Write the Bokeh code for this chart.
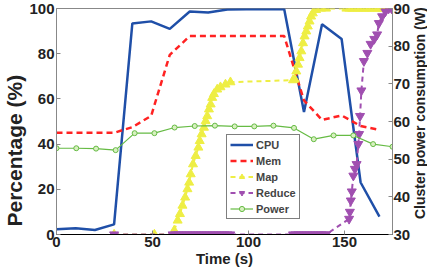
from bokeh.plotting import figure
from bokeh.models import Range1d, LinearAxis, FixedTicker, Legend, LegendItem, Div
from bokeh.layouts import row
from bokeh.embed import file_html
from bokeh.resources import INLINE

# ---------------- data ----------------
t_cpu = [0, 10, 20, 30, 39.5, 49.3, 59, 69.4, 79, 89, 99, 109, 118.6, 128.9, 138.3, 148.5, 158.4, 168.2]
cpu = [2.3, 2.8, 2.0, 4.5, 93.4, 94.3, 91.0, 98.7, 98.2, 99.6, 99.7, 99.7, 99.7, 54.2, 93.0, 86.5, 23.0, 7.9]

t_mem = [0, 10, 20, 30, 39.5, 49.3, 59, 69.4, 79, 89, 99, 109, 118.6, 128.9, 138.3, 148.5, 158.4, 168.2]
mem = [45.0, 45.0, 45.0, 45.0, 47.5, 52.5, 79.5, 87.8, 87.8, 87.8, 87.8, 87.8, 87.8, 59.3, 50.7, 52.7, 48.0, 46.3]

t_map = [30, 51, 60.5, 61.3, 63.1, 64.3, 65.6, 67.0, 68.2, 69.1, 69.9, 71.1, 72.5, 73.9, 74.6, 75.6,
         76.8, 77.7, 78.5, 79.4, 80.3, 81.1, 82.0, 83.7, 85.4, 88.0, 90.6,
         123.2, 124.1, 124.9, 125.8, 126.6, 127.5, 128.4, 129.2, 130.1, 130.9, 131.8, 132.6, 133.5,
         135.2, 137.8, 140.4, 151, 152.5, 154, 155.5, 157, 158.5, 160, 161.5, 163, 164.5, 166,
         167.5, 169, 170.5, 172, 173.5]
map_pct = [0, 0, 0, 1.8, 6.2, 9.1, 12.8, 16.4, 20.1, 23.0, 26.7, 31.1, 34.8, 38.5, 41.4, 44.4,
           47.3, 50.2, 52.4, 55.4, 57.6, 60.5, 62.2, 64.2, 65.2, 66.4, 67.4,
           68.3, 68.6, 72.2, 75.2, 78.1, 81.1, 84.7, 87.7, 89.9, 92.1, 94.3, 96.5, 97.9,
           99.4, 100, 100, 100, 100, 100, 100, 100, 100, 100, 100, 100, 100, 100,
           100, 100, 100, 100, 100]

t_red = [30, 60.5, 62, 63.5, 65, 66.5, 68, 69.5, 71, 72.5, 74, 75.5, 77, 78.5, 80, 81.5, 83, 84.5,
         86, 87.5, 89, 90.5, 123.2, 124.5, 126, 127.5, 129, 130.5, 132, 133.5, 135, 136.5, 138,
         139.5, 140.4, 152.4, 152.8, 153.3, 153.8, 154.6, 155.4, 156.3, 157.2, 157.6, 158.1, 158.8,
         160.1, 161.9, 163.6, 165.5, 167.0, 167.9, 169.6, 171.3, 173.0, 174.5]
reduce_pct = [0, 0, 0, 0, 0, 0, 0, 0, 0, 0, 0, 0, 0, 0, 0, 0, 0, 0,
              0, 0, 0, 0, 0, 0, 0, 0, 0, 0, 0, 0, 0, 0, 0,
              0, 0, 6.9, 10.0, 15.0, 19.0, 26.0, 29.0, 31.1, 40.0, 44.4, 52.4, 63.7,
              76.7, 80.3, 84.3, 86.5, 88.5, 93.5, 96.5, 98.7, 100, 100]

t_pow = [0, 10.3, 20.6, 30.8, 40.7, 51, 61.5, 72, 82.5, 92.8, 103, 113, 123.7, 134, 144.3, 154.6, 164.9, 175]
power_w = [52.9, 52.9, 52.8, 52.4, 56.9, 56.9, 58.4, 58.8, 58.9, 58.7, 58.7, 58.9, 58.3, 55.3, 56.3, 56.3, 54.0, 53.3]

x_ticks = [0, 50, 100, 150]
y_ticks = [0, 20, 40, 60, 80, 100]
y2_ticks = [30, 40, 50, 60, 70, 80, 90]

x_label = "Time (s)"
y_label = "Percentage (%)"
y2_label = "Cluster power consumption (W)"

# ---------------- styles ----------------
FONT = "Liberation Sans"
TXT = "#222222"
NB = "\u00a0"
C_CPU = "#1f4fa8"
C_MEM = "#ff2222"
C_MAP = "#eeee44"
C_RED = "#a04fb0"
C_POW = "#66bb44"

p = figure(width=413, height=276, output_backend="svg", toolbar_location=None,
           x_range=Range1d(0, 175), y_range=Range1d(0, 100),
           min_border_left=56, min_border_right=17, min_border_top=8, min_border_bottom=42)
p.extra_y_ranges = {"pow": Range1d(30, 90)}
p.grid.visible = False
p.outline_line_color = "#888888"
p.background_fill_color = "white"
p.border_fill_color = "white"

r_cpu = p.line(t_cpu, cpu, line_color=C_CPU, line_width=2.5)
r_mem = p.line(t_mem, mem, line_color=C_MEM, line_width=2.5, line_dash="6 4")
r_map_l = p.line(t_map, map_pct, line_color=C_MAP, line_width=2, line_dash="5 4")
r_map_m = p.scatter(t_map, map_pct, marker="triangle", size=9, fill_color=C_MAP, line_color=C_MAP)
r_red_l = p.line(t_red, reduce_pct, line_color=C_RED, line_width=2, line_dash="5 4")
r_red_m = p.scatter(t_red, reduce_pct, marker="inverted_triangle", size=9, fill_color=C_RED, line_color=C_RED)
r_pow_l = p.line(t_pow, power_w, line_color=C_POW, line_width=1.2, y_range_name="pow")
r_pow_m = p.scatter(t_pow, power_w, marker="circle", size=5, fill_color="#d8f0c0", line_color=C_POW,
                    y_range_name="pow")

# axes
xa = p.xaxis[0]
xa.ticker = FixedTicker(ticks=x_ticks)
xa.axis_label = x_label
ya = p.yaxis[0]
ya.ticker = FixedTicker(ticks=y_ticks)
# trailing no-break spaces shift the centred title down, as in the reference
ya.axis_label = y_label + NB * 10
ya2 = LinearAxis(y_range_name="pow", ticker=FixedTicker(ticks=y2_ticks))
p.add_layout(ya2, "right")

for ax in (xa, ya, ya2):
    ax.major_tick_in = 4
    ax.major_tick_out = 0
    ax.minor_tick_in = 0
    ax.minor_tick_out = 0
    ax.major_label_text_font = FONT
    ax.major_label_text_font_style = "bold"
    ax.major_label_text_font_size = "15px"
    ax.major_label_text_color = TXT
    ax.axis_label_text_font = FONT
    ax.axis_label_text_font_style = "bold"
    ax.axis_label_text_color = TXT
    ax.axis_line_color = "#888888"
    ax.major_tick_line_color = "#888888"
    ax.major_label_standoff = 2
    ax.axis_label_standoff = 0
xa.axis_line_color = "black"
xa.axis_label_text_font_size = "15px"
ya.axis_label_text_font_size = "21px"
ya2.major_label_standoff = 1

legend = Legend(items=[
    LegendItem(label="CPU", renderers=[r_cpu]),
    LegendItem(label="Mem", renderers=[r_mem]),
    LegendItem(label="Map", renderers=[r_map_l, r_map_m]),
    LegendItem(label="Reduce", renderers=[r_red_l, r_red_m]),
    LegendItem(label="Power", renderers=[r_pow_l, r_pow_m]),
], location=(170, 15))
legend.label_text_font = FONT
legend.label_text_font_style = "bold"
legend.label_text_font_size = "11px"
legend.glyph_width = 23
legend.glyph_height = 13
legend.label_height = 13
legend.spacing = 3
legend.padding = 3
legend.margin = 0
legend.label_standoff = 3
legend.border_line_color = "black"
legend.border_line_width = 1.5
legend.background_fill_alpha = 1
p.add_layout(legend, "center")

# right-hand title, reading bottom to top
right_title = Div(text=y2_label, width=14, height=226, margin=0,
                  styles={"writing-mode": "vertical-rl", "transform": "rotate(180deg)",
                          "font-family": FONT, "font-weight": "bold", "font-size": "14px",
                          "line-height": "14px", "text-align": "center", "white-space": "nowrap",
                          "color": TXT, "background": "white"})

layout = row(p, right_title, spacing=0)
open("out.html", "w").write(file_html(layout, INLINE))
